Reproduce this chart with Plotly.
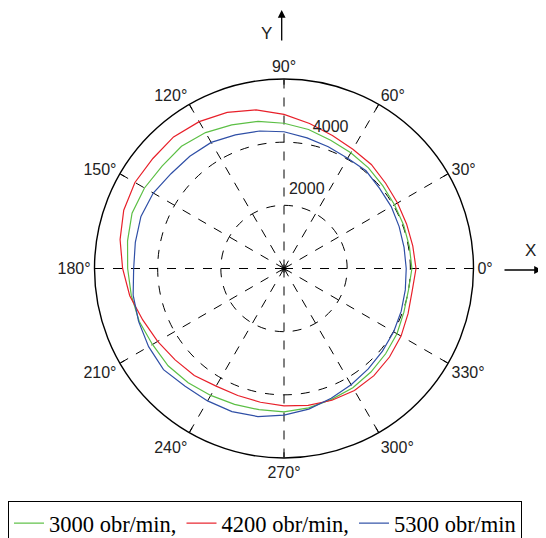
import plotly.graph_objects as go

# angles (degrees)
theta = [0, 10, 20, 30, 40, 50, 60, 70, 80, 90, 100, 110, 120, 130, 140, 150, 160, 170,
         180, 190, 200, 210, 220, 230, 240, 250, 260, 270, 280, 290, 300, 310, 320, 330, 340, 350]

# pressure amplitude (Pa)
p3000 = [4050, 4030, 4030, 4040, 4080, 4160, 4230, 4320, 4470, 4600, 4730, 4840, 4970, 5050, 5040, 5100, 5120, 5030,
         4950, 4910, 4880, 4810, 4790, 4720, 4640, 4580, 4540, 4540, 4480, 4410, 4360, 4280, 4200, 4130, 4040, 4000]
p4200 = [4180, 4140, 4130, 4150, 4200, 4300, 4360, 4480, 4660, 4880, 5100, 5260, 5370, 5440, 5420, 5450, 5400, 5270,
         5110, 4960, 4760, 4620, 4500, 4420, 4300, 4280, 4300, 4350, 4400, 4440, 4460, 4430, 4360, 4280, 4180, 4120]
p5300 = [3870, 3860, 3880, 3920, 3950, 4040, 4030, 4100, 4200, 4330, 4420, 4500, 4610, 4640, 4670, 4780, 4820, 4780,
         4760, 4850, 4900, 4950, 4980, 4870, 4840, 4820, 4760, 4640, 4520, 4370, 4250, 4150, 4070, 4010, 3950, 3900]

series_names = ["3000 obr/min,", "4200 obr/min,", "5300 obr/min"]
series_colors = ["#5cbf45", "#e8202a", "#2f4fa6"]

angle_ticks = [0, 30, 60, 90, 120, 150, 180, 210, 240, 270, 300, 330]
angle_labels = [f"{a}°" for a in angle_ticks]
radial_grid = [2000, 4000]
radial_labels = ["2000", "4000", "6000Pa"]
radial_label_r = [2600, 4680, 6750]
radial_label_theta = [73.9, 71.6, 72.2]
r_max = 6000

fig = go.Figure()
for name, vals, col in zip(series_names, [p3000, p4200, p5300], series_colors):
    fig.add_trace(go.Scatterpolar(
        r=vals + vals[:1], theta=theta + theta[:1], mode="lines", name=name,
        line=dict(color=col, width=1.2)))

# centre marker
fig.add_trace(go.Scatterpolar(r=[0], theta=[0], mode="markers", showlegend=False,
                              marker=dict(symbol="asterisk-open", size=7, color="black",
                                          line=dict(color="black", width=1))))
# radial value labels
fig.add_trace(go.Scatterpolar(r=radial_label_r, theta=radial_label_theta, mode="text",
                              text=radial_labels, showlegend=False, cliponaxis=False,
                              textfont=dict(family="Liberation Sans, Arial", size=16, color="#222")))

W, H = 546, 538
OFF = 8  # page body margin of the html page
cx, cy, R = 284 - OFF, 268.5 - OFF, 189.5
fig.update_layout(
    width=W, height=H, margin=dict(l=0, r=0, t=0, b=0, autoexpand=False),
    paper_bgcolor="white", plot_bgcolor="white",
    font=dict(family="Liberation Sans, Arial", size=16, color="#222"),
    polar=dict(
        domain=dict(x=[(cx - R) / W, (cx + R) / W], y=[(H - cy - R) / H, (H - cy + R) / H]),
        bgcolor="white",
        radialaxis=dict(range=[0, r_max], tickvals=radial_grid, showticklabels=False,
                        showline=False, ticks="", gridcolor="black", griddash="dash", gridwidth=1),
        angularaxis=dict(tickvals=angle_ticks, ticktext=angle_labels, direction="counterclockwise",
                         rotation=0, showline=True, linecolor="black", linewidth=1.4,
                         ticks="inside", ticklen=5, tickcolor="black",
                         gridcolor="black", griddash="dash", gridwidth=1,
                         tickfont=dict(family="Liberation Sans, Arial", size=16, color="#222")),
    ),
    legend=dict(orientation="h", x=0, y=(H - (501 - OFF)) / H, xanchor="left", yanchor="top",
                bordercolor="black", borderwidth=1, bgcolor="white",
                font=dict(family="Liberation Serif, Times New Roman", size=22.5, color="black"),
                itemwidth=30, tracegroupgap=0),
    showlegend=True,
)

# axes arrows
fig.add_annotation(x=(281.7 - OFF) / W, y=(H - (10 - OFF)) / H, xref="paper", yref="paper",
                   ax=0, ay=32, axref="pixel", ayref="pixel", text="", showarrow=True,
                   arrowhead=2, arrowsize=1.2, arrowwidth=1.3, arrowcolor="black")
fig.add_annotation(x=(266 - OFF) / W, y=(H - (22 - OFF)) / H, xref="paper", yref="paper",
                   text="Y", showarrow=False, font=dict(size=17, color="#222"))
fig.add_annotation(x=(542 - OFF) / W, y=(H - (270 - OFF)) / H, xref="paper", yref="paper",
                   ax=-39, ay=0, text="", showarrow=True, arrowhead=2, arrowsize=1.2,
                   arrowwidth=1.3, arrowcolor="black")
fig.add_annotation(x=(538 - OFF) / W, y=(H - (250 - OFF)) / H, xref="paper", yref="paper",
                   text="X", showarrow=False, font=dict(size=17, color="#222"))

fig.write_html("out.html")
